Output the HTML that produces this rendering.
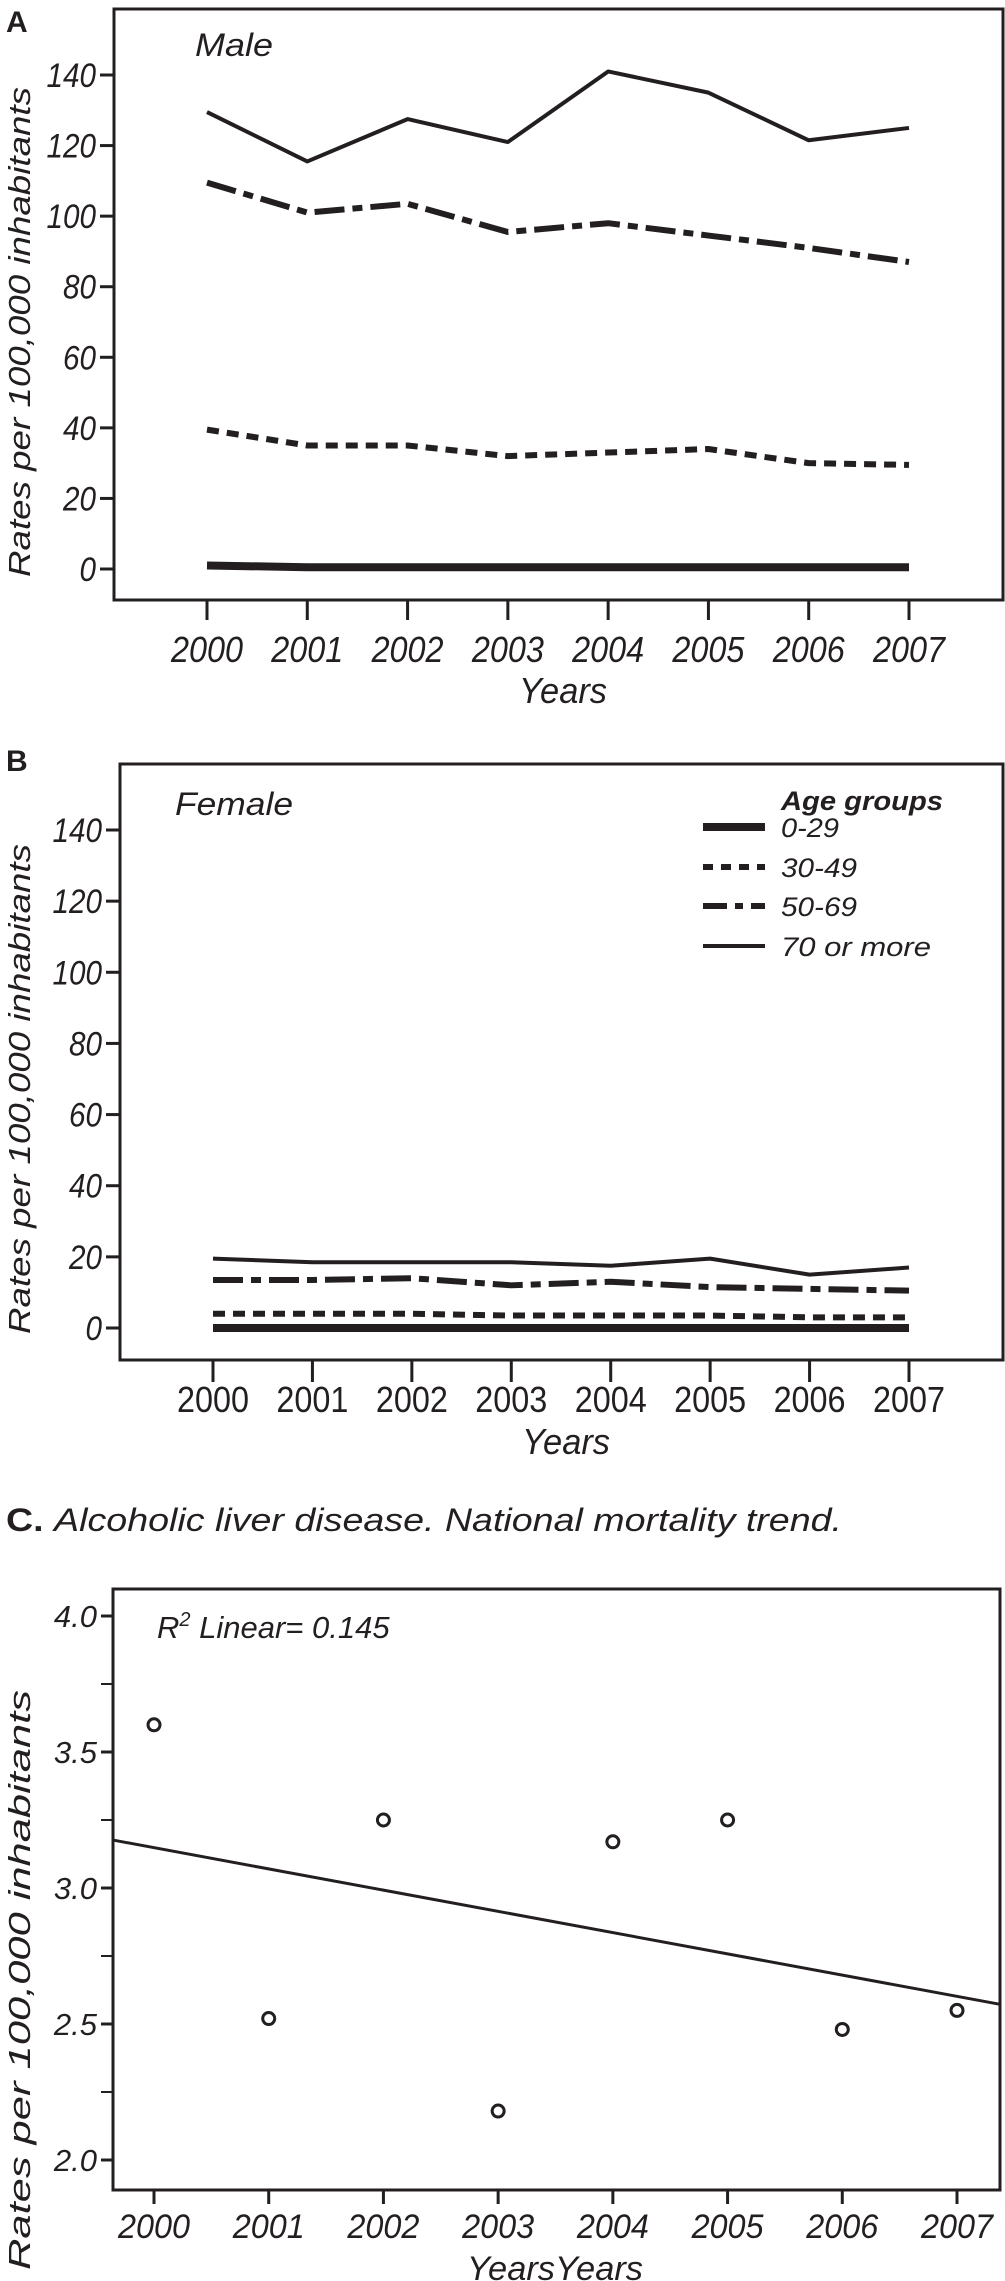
<!DOCTYPE html>
<html><head><meta charset="utf-8"><style>
html,body{margin:0;padding:0;background:#fff}
svg{display:block}
text{fill:#231f20}
</style></head><body>
<svg id="fig" width="1005" height="2281" viewBox="0 0 1005 2281" xmlns="http://www.w3.org/2000/svg" font-family="'Liberation Sans', sans-serif">
<g id="gA"></g>
<g id="gB"></g>
<g id="gC"></g>
</svg>
<script>
const years = [2000,2001,2002,2003,2004,2005,2006,2007];
const maleAge0 = [1,0.5,0.5,0.5,0.5,0.5,0.5,0.5];
const maleAge30 = [39.5,35,35,32,33,34,30,29.5];
const maleAge50 = [109.5,101,103.5,95.5,98,94.5,91,87];
const maleAge70 = [129.5,115.5,127.5,121,141,135,121.5,125];
const femAge0 = [0,0,0,0,0,0,0,0];
const femAge30 = [4,4,4,3.5,3.5,3.5,3,3];
const femAge50 = [13.5,13.5,14,12,13,11.5,11,10.5];
const femAge70 = [19.5,18.5,18.5,18.5,17.5,19.5,15,17];
const rateTicks = [0,20,40,60,80,100,120,140];
const nationalRates = [3.6,2.52,3.25,2.18,3.17,3.25,2.48,2.55];
const nationalTicks = [2.0,2.5,3.0,3.5,4.0];
const seriesNames = ['0-29','30-49','50-69','70 or more'];

const NS='http://www.w3.org/2000/svg';
const NARROW="'Liberation Sans Narrow','Liberation Sans',sans-serif";
function mk(parent,tag,attrs,txt){const e=document.createElementNS(NS,tag);for(const k in attrs)e.setAttribute(k,attrs[k]);if(txt!==undefined)e.textContent=txt;parent.appendChild(e);return e;}
const styles=[
 {w:8,dash:''},
 {w:6,dash:'12 8'},
 {w:6,dash:'30 8 10 8'},
 {w:4,dash:''}
];
function linePanel(g,cfg){
  const {L,R,T,B,x0,x1,y0,y140,tickBot,labY,yearsY,italicTicks,series}=cfg;
  const xs=v=>x0+(v-years[0])*(x1-x0)/(years[years.length-1]-years[0]);
  const ys=v=>y0+(v-0)*(y140-y0)/140;
  const frame=mk(g,'rect',{x:L,y:T,width:R-L,height:B-T,fill:'none',stroke:'#231f20','stroke-width':3});
  
  
  rateTicks.forEach(t=>{
    const tk=mk(g,'line',{x1:L-14,x2:L,y1:ys(t),y2:ys(t),stroke:'#231f20','stroke-width':3});
    
    
    const s=String(t);
    const tl=mk(g,'text',{x:L-18,y:ys(t)+12,'text-anchor':'end','font-size':34,'font-style':'italic','font-family':NARROW,textLength:s.length*16.5,lengthAdjust:'spacingAndGlyphs'},s);
    
    
  });
  years.forEach(y=>{
    const tk=mk(g,'line',{x1:xs(y),x2:xs(y),y1:B,y2:tickBot,stroke:'#231f20','stroke-width':3});
    
    
    const tl=mk(g,'text',{x:xs(y),y:labY+12,'text-anchor':'middle','font-size':36,'font-style':italicTicks?'italic':'normal','font-family':NARROW,textLength:72,lengthAdjust:'spacingAndGlyphs'},y);
    
    
  });
  series.forEach((s,i)=>{
    const pts=s.map((v,j)=>xs(years[j])+','+ys(v)).join(' ');
    const pl=mk(g,'polyline',{points:pts,fill:'none',stroke:'#231f20','stroke-width':styles[i].w,'stroke-dasharray':styles[i].dash,'stroke-linejoin':'round'});
    
    
  });
  const xt=mk(g,'text',{x:(x0+x1)/2+5,y:yearsY+12,'text-anchor':'middle','font-size':36,'font-style':'italic','font-family':NARROW,textLength:88,lengthAdjust:'spacingAndGlyphs'},'Years');
  
  
  const cy=(ys(0)+ys(140))/2+10;
  const yt=mk(g,'text',{x:0,y:0,transform:`translate(30,${cy}) rotate(-90)`,'text-anchor':'middle','font-size':31,'font-style':'italic',textLength:490,lengthAdjust:'spacingAndGlyphs'},'Rates per 100,000 inhabitants');
  
  
}
const gA=document.getElementById('gA');
linePanel(gA,{L:114,R:1003,T:9,B:600,x0:207,x1:909,y0:569,y140:75,tickBot:620,labY:650,yearsY:691,italicTicks:true,series:[maleAge0,maleAge30,maleAge50,maleAge70]});
const la=mk(gA,'text',{x:6,y:32,'font-size':30,'font-weight':'bold'},'A');


const ma=mk(gA,'text',{x:195,y:56,'font-size':32,'font-style':'italic','font-family':NARROW,textLength:78,lengthAdjust:'spacingAndGlyphs'},'Male');



const gB=document.getElementById('gB');
linePanel(gB,{L:120,R:1003,T:764,B:1360,x0:213,x1:909,y0:1328,y140:830,tickBot:1382,labY:1400,yearsY:1442,italicTicks:false,series:[femAge0,femAge30,femAge50,femAge70]});
const lb=mk(gB,'text',{x:6,y:771,'font-size':30,'font-weight':'bold'},'B');


const fe=mk(gB,'text',{x:175,y:815,'font-size':32,'font-style':'italic','font-family':NARROW,textLength:118,lengthAdjust:'spacingAndGlyphs'},'Female');


const lg=mk(gB,'g',{});


const lt=mk(lg,'text',{x:781,y:810,'font-size':27,'font-style':'italic','font-weight':'bold','font-family':NARROW,textLength:162,lengthAdjust:'spacingAndGlyphs'},'Age groups');


const legY=[827,867,906,946];
const legW=[58,76,76,150];
seriesNames.forEach((n,i)=>{
  const ln=mk(lg,'line',{x1:703,x2:765,y1:legY[i],y2:legY[i],stroke:'#231f20','stroke-width':styles[i].w,'stroke-dasharray':i==1?'10 8':(i==2?'24 8 8 8':'')});
  
  
  const tx=mk(lg,'text',{x:781,y:legY[i]+10,'font-size':27,'font-style':'italic','font-family':NARROW,textLength:legW[i],lengthAdjust:'spacingAndGlyphs'},n);
  
  
});

// Panel C
const gC=document.getElementById('gC');
const ct=mk(gC,'text',{x:6,y:1531,'font-size':32,'textLength':836,lengthAdjust:'spacingAndGlyphs'});


mk(ct,'tspan',{'font-weight':'bold'},'C. ');
mk(ct,'tspan',{'font-style':'italic'},'Alcoholic liver disease. National mortality trend.');
const CL=113,CR=1000,CT=1589,CB=2190;
const cx=v=>154+(v-2000)*(957-154)/7;
const cy=v=>2160+(v-2.0)*(1616-2160)/2.0;
const cf=mk(gC,'rect',{x:CL,y:CT,width:CR-CL,height:CB-CT,fill:'none',stroke:'#231f20','stroke-width':3});


nationalTicks.forEach(t=>{
  const tk=mk(gC,'line',{x1:CL-12,x2:CL,y1:cy(t),y2:cy(t),stroke:'#231f20','stroke-width':3});
  
  
  const tl=mk(gC,'text',{x:CL-16,y:cy(t)+11,'text-anchor':'end','font-size':31,'font-style':'italic'},t.toFixed(1));
  
  
});
[2.25,2.75,3.25,3.75].forEach(t=>{
  const tk=mk(gC,'line',{x1:CL-12,x2:CL,y1:cy(t),y2:cy(t),stroke:'#231f20','stroke-width':2});
  
  
});
years.forEach(y=>{
  const tk=mk(gC,'line',{x1:cx(y),x2:cx(y),y1:CB,y2:CB+14,stroke:'#231f20','stroke-width':3});
  
  
  const tl=mk(gC,'text',{x:cx(y),y:2238,'text-anchor':'middle','font-size':34,'font-style':'italic','font-family':NARROW,textLength:72,lengthAdjust:'spacingAndGlyphs'},y);
  
  
});
// regression
const n=years.length;
const mx=years.reduce((a,b)=>a+b,0)/n, my=nationalRates.reduce((a,b)=>a+b,0)/n;
let sxy=0,sxx=0;years.forEach((x,i)=>{sxy+=(x-mx)*(nationalRates[i]-my);sxx+=(x-mx)*(x-mx);});
const slope=sxy/sxx, icpt=my-slope*mx;
const xa=2000+(CL-154)/((957-154)/7), xb=2000+(CR-154)/((957-154)/7);
const rl=mk(gC,'line',{x1:CL,y1:cy(icpt+slope*xa),x2:CR,y2:cy(icpt+slope*xb),stroke:'#231f20','stroke-width':3});


nationalRates.forEach((v,i)=>{
  const c=mk(gC,'circle',{cx:cx(years[i]),cy:cy(v),r:6,fill:'none',stroke:'#231f20','stroke-width':3});
  
  
});
const r2=mk(gC,'text',{x:157,y:1638,'font-size':31,'font-style':'italic'});


r2.innerHTML='R<tspan font-size="20" dy="-12">2</tspan><tspan dy="12"> Linear= 0.145</tspan>';
const ctx=mk(gC,'text',{x:555,y:2280,'text-anchor':'middle','font-size':34,'font-style':'italic','font-family':NARROW,textLength:176,lengthAdjust:'spacingAndGlyphs'},'YearsYears');


const cyt=mk(gC,'text',{x:0,y:0,transform:`translate(30,${(1690+2270)/2}) rotate(-90)`,'text-anchor':'middle','font-size':31,'font-style':'italic',textLength:580,lengthAdjust:'spacingAndGlyphs'},'Rates per 100,000 inhabitants');


</script>
</body></html>
